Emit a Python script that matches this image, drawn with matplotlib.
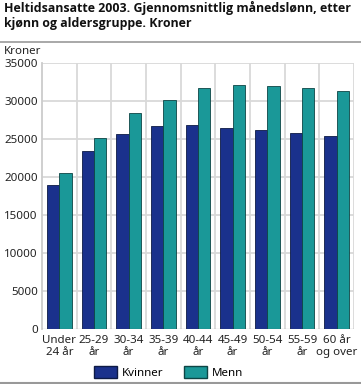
import matplotlib
matplotlib.use("Agg")
import matplotlib.pyplot as plt
import numpy as np
from matplotlib.lines import Line2D
from matplotlib.patches import Patch

categories = ["Under\n24 år", "25-29\når", "30-34\når", "35-39\når", "40-44\når",
              "45-49\når", "50-54\når", "55-59\når", "60 år\nog over"]
kvinner = [19000, 23400, 25750, 26750, 26900, 26450, 26150, 25800, 25450]
menn = [20500, 25100, 28400, 30200, 31700, 32100, 31950, 31700, 31400]
yticks = [0, 5000, 10000, 15000, 20000, 25000, 30000, 35000]

c_k = "#1a318c"
c_m = "#1a9898"
plt.rcParams['font.family'] = ["Noto Sans", "DejaVu Sans"]

fig = plt.figure(figsize=(3.61, 3.84), dpi=100)
ax = fig.add_axes([42/361, 1-329/384, 312/361, (329-63.3)/384])

x = np.arange(len(categories))
w = 0.355
ax.bar(x - w/2, kvinner, w, color=c_k, edgecolor="#0d1a45", linewidth=0.6, zorder=3)
ax.bar(x + w/2, menn, w, color=c_m, edgecolor="#0d4545", linewidth=0.6, zorder=3)

ax.set_xlim(-0.5, len(categories) - 0.5)
ax.set_ylim(0, 35000)
ax.set_yticks(yticks)
ax.set_yticklabels([str(v) for v in yticks], fontsize=8.3, color="#222222")
ax.set_xticks(x)
ax.set_xticklabels(categories, fontsize=8.3, color="#222222", linespacing=1.05)
ax.tick_params(axis="both", length=0, pad=3)
ax.tick_params(axis="x", pad=4.5)
for yv in yticks[1:]:
    ax.axhline(yv, color="#d9d9d9", linewidth=1.3, zorder=1)
for xv in np.arange(0.5, len(categories) - 0.5 + 0.01, 1.0):
    ax.axvline(xv, color="#d9d9d9", linewidth=1.3, zorder=1)
for s in ["top", "right", "bottom"]:
    ax.spines[s].set_visible(False)
ax.spines["left"].set_color("#cccccc")
ax.spines["left"].set_linewidth(1.3)
ax.axhline(0, color="#555555", linewidth=0.8, zorder=4)

fig.text(4/361, 1-12/384, "Heltidsansatte 2003. Gjennomsnittlig månedslønn, etter",
         fontsize=8.9, fontweight="bold", family=["Open Sans", "DejaVu Sans"],
         va="baseline", ha="left", color="#111111")
fig.text(4/361, 1-27.5/384, "kjønn og aldersgruppe. Kroner",
         fontsize=8.9, fontweight="bold", family=["Open Sans", "DejaVu Sans"],
         va="baseline", ha="left", color="#111111")
fig.add_artist(Line2D([0, 1], [1-41.5/384, 1-41.5/384], color="#999999", linewidth=1.2, transform=fig.transFigure))
fig.text(4/361, 1-51/384, "Kroner", fontsize=8.3, va="center", ha="left", color="#222222")
fig.add_artist(Line2D([0, 1], [1-383/384, 1-383/384], color="#999999", linewidth=1.5, transform=fig.transFigure))

handles = [Patch(facecolor=c_k, edgecolor="#0d1a45", label="Kvinner"),
           Patch(facecolor=c_m, edgecolor="#0d4545", label="Menn")]
fig.legend(handles=handles, loc="center", bbox_to_anchor=(168.5/361, 1-372.5/384), ncol=2, frameon=False,
           fontsize=8.3, handlelength=2.0, handleheight=1.3, columnspacing=1.8, handletextpad=0.4)

fig.savefig("out.png", dpi=100)
